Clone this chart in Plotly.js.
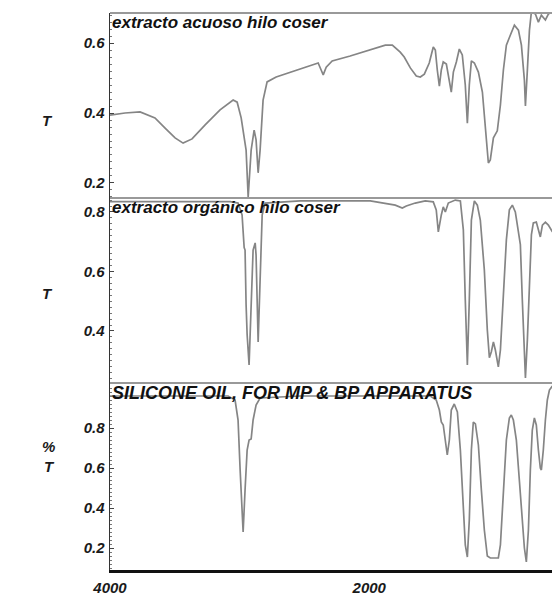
<!DOCTYPE html>
<html>
<head>
<meta charset="utf-8">
<script src="https://cdn.plot.ly/plotly-3.0.1.min.js"></script>
<style>html,body{margin:0;padding:0;background:#fff;}#chart{width:552px;height:599px;}</style>
</head>
<body>
<div id="chart"></div>
<script>
// Panel 1: extracto acuoso hilo coser
const wn1 = [4000,3884,3768,3653,3575,3498,3436,3367,3266,3151,3050,3019,2988,2965,2950,2934,2911,2888,2873,2857,2842,2819,2788,2718,2610,2494,2394,2371,2355,2332,2286,2147,1992,1876,1822,1761,1730,1683,1637,1606,1575,1537,1506,1490,1475,1459,1444,1429,1405,1382,1367,1351,1328,1305,1282,1259,1243,1228,1212,1189,1158,1127,1104,1081,1066,1042,1012,988,965,942,911,880,849,826,803,795,780,764,749,718,695,672,641,618,587];
const t1  = [0.394,0.400,0.403,0.386,0.357,0.329,0.314,0.326,0.366,0.409,0.437,0.431,0.386,0.329,0.294,0.160,0.294,0.351,0.323,0.229,0.294,0.437,0.489,0.503,0.517,0.531,0.543,0.523,0.509,0.531,0.549,0.563,0.580,0.594,0.594,0.574,0.560,0.529,0.506,0.503,0.511,0.543,0.589,0.580,0.523,0.477,0.523,0.546,0.540,0.494,0.460,0.517,0.546,0.583,0.566,0.480,0.371,0.480,0.549,0.543,0.517,0.460,0.366,0.257,0.266,0.329,0.349,0.423,0.523,0.594,0.623,0.651,0.637,0.594,0.494,0.420,0.523,0.637,0.689,0.683,0.660,0.680,0.666,0.683,0.689];

// Panel 2: extracto orgánico hilo coser
const wn2 = [4000,3073,3012,2981,2965,2958,2950,2942,2927,2911,2896,2880,2873,2857,2842,2826,2803,2533,1992,1876,1799,1745,1714,1645,1568,1506,1483,1467,1459,1444,1429,1413,1390,1336,1297,1274,1259,1243,1228,1212,1189,1166,1143,1112,1089,1073,1058,1042,1027,1004,988,965,942,919,896,873,849,834,819,803,795,780,764,749,734,711,695,680,664,641,618,587];
const t2  = [0.835,0.835,0.830,0.790,0.680,0.672,0.487,0.387,0.286,0.504,0.672,0.696,0.655,0.363,0.538,0.790,0.830,0.837,0.837,0.830,0.823,0.813,0.820,0.830,0.837,0.834,0.807,0.733,0.757,0.790,0.817,0.800,0.830,0.840,0.837,0.740,0.504,0.286,0.504,0.773,0.837,0.823,0.773,0.605,0.403,0.310,0.330,0.363,0.336,0.279,0.336,0.504,0.706,0.807,0.823,0.800,0.740,0.690,0.504,0.336,0.242,0.370,0.571,0.723,0.763,0.766,0.740,0.716,0.756,0.766,0.756,0.733];

// Panel 3: SILICONE OIL, FOR MP & BP APPARATUS
const wn3 = [4000,3089,3035,3012,2996,2981,2973,2958,2942,2927,2911,2896,2873,2842,2533,1529,1483,1459,1444,1429,1413,1398,1382,1367,1344,1320,1297,1274,1259,1243,1228,1212,1197,1181,1158,1135,1112,1089,1066,1035,1004,988,965,942,919,904,888,865,842,819,803,788,772,757,742,726,711,695,680,672,657,641,626,610,587];
const t3  = [0.960,0.960,0.940,0.840,0.590,0.340,0.280,0.490,0.690,0.740,0.745,0.840,0.915,0.950,0.960,0.960,0.940,0.890,0.830,0.815,0.740,0.665,0.740,0.890,0.920,0.880,0.690,0.390,0.215,0.155,0.340,0.690,0.830,0.820,0.715,0.490,0.290,0.160,0.150,0.150,0.150,0.215,0.490,0.740,0.850,0.865,0.840,0.740,0.540,0.340,0.200,0.130,0.290,0.590,0.790,0.850,0.815,0.690,0.600,0.590,0.690,0.840,0.940,0.990,1.010];

const panelLabels = ["extracto acuoso hilo coser", "extracto orgánico hilo coser", "SILICONE OIL, FOR MP & BP APPARATUS"];
const yTitles = ["T", "T", "%<br>T"];
const xTickVals = [4000, 2000];
const xTickText = ["4000", "2000"];

const lineStyle = {color: '#858585', width: 1.7};
const traces = [
  {x: wn1, y: t1, xaxis: 'x', yaxis: 'y', mode: 'lines', line: lineStyle, hoverinfo: 'skip'},
  {x: wn2, y: t2, xaxis: 'x', yaxis: 'y2', mode: 'lines', line: lineStyle, hoverinfo: 'skip'},
  {x: wn3, y: t3, xaxis: 'x', yaxis: 'y3', mode: 'lines', line: lineStyle, hoverinfo: 'skip'}
];

const H = 557; // plot height in px
const d3top = 187 / H, d2top = 372 / H;
const FAM = 'Liberation Sans, Arial, sans-serif';
const tickFont = {family: FAM, size: 15, weight: 'bold', style: 'italic', color: '#1a1a1a'};

function yax(domain, range, vals) {
  return {
    domain: domain, range: range, tickvals: vals, ticktext: vals.map(v => v.toFixed(1)),
    showline: true, linecolor: '#333', linewidth: 1.5, mirror: false,
    ticks: 'inside', ticklen: 4, tickcolor: '#444', tickfont: tickFont, ticklabelstandoff: 1,
    showgrid: false, zeroline: false, fixedrange: true,
    minor: {ticks: 'inside', ticklen: 2, dtick: 0.02, tickcolor: '#777', showgrid: false}
  };
}

function labelFont(size) {
  return {family: FAM, size: size, weight: 'bold', style: 'italic', color: '#111'};
}

const layout = {
  width: 552, height: 599,
  margin: {l: 110, r: 0, t: 13, b: 29},
  paper_bgcolor: '#ffffff', plot_bgcolor: '#ffffff',
  showlegend: false,
  xaxis: {
    anchor: 'y3', range: [4000, 590], tickvals: xTickVals, ticktext: xTickText,
    showline: true, linecolor: '#111', linewidth: 3, ticks: '', showgrid: false, zeroline: false,
    tickfont: tickFont, ticklabelstandoff: 2
  },
  yaxis: yax([d2top, 1], [0.157, 0.686], [0.2, 0.4, 0.6]),
  yaxis2: yax([d3top, d2top], [0.225, 0.847], [0.4, 0.6, 0.8]),
  yaxis3: yax([0, d3top], [0.09, 1.025], [0.2, 0.4, 0.6, 0.8]),
  shapes: [
    {type: 'line', xref: 'paper', yref: 'paper', x0: 0, x1: 1, y0: 1, y1: 1, line: {color: '#999', width: 2}},
    {type: 'line', xref: 'paper', yref: 'paper', x0: 0, x1: 1, y0: d2top, y1: d2top, line: {color: '#999', width: 2}},
    {type: 'line', xref: 'paper', yref: 'paper', x0: 0, x1: 1, y0: d3top, y1: d3top, line: {color: '#999', width: 2}}
  ],
  annotations: [
    {text: panelLabels[0], xref: 'paper', yref: 'paper', x: 0.0, y: 1.004, xanchor: 'left', yanchor: 'top', showarrow: false, font: labelFont(17)},
    {text: panelLabels[1], xref: 'paper', yref: 'paper', x: 0.0, y: d2top + 0.004, xanchor: 'left', yanchor: 'top', showarrow: false, font: labelFont(17)},
    {text: panelLabels[2], xref: 'paper', yref: 'paper', x: 0.0, y: d3top + 0.003, xanchor: 'left', yanchor: 'top', showarrow: false, font: labelFont(18)},
    {text: yTitles[0], xref: 'paper', yref: 'paper', x: -0.158, y: 0.826, showarrow: false, font: tickFont},
    {text: yTitles[1], xref: 'paper', yref: 'paper', x: -0.158, y: 0.497, showarrow: false, font: tickFont},
    {text: yTitles[2], xref: 'paper', yref: 'paper', x: -0.158, y: 0.167, showarrow: false, font: tickFont}
  ]
};

Plotly.newPlot('chart', traces, layout, {displayModeBar: false, staticPlot: true});
</script>
</body>
</html>
